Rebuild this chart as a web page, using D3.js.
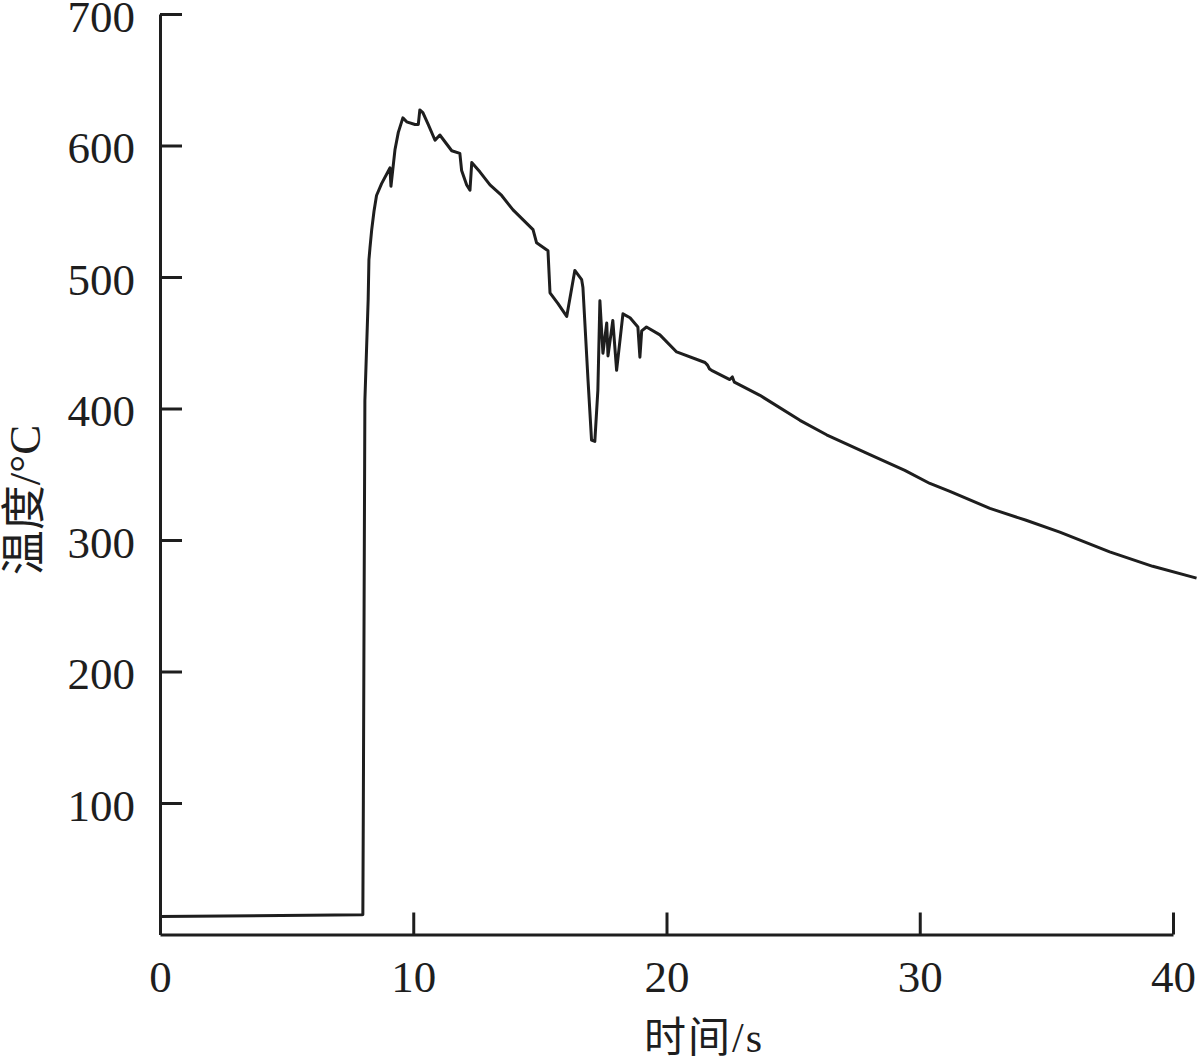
<!DOCTYPE html>
<html>
<head>
<meta charset="utf-8">
<script src="https://cdn.jsdelivr.net/npm/d3@7"></script>
<style>
  html, body { margin: 0; padding: 0; background: #fff; }
  svg { display: block; }
</style>
</head>
<body>
<svg id="chart" width="1199" height="1062"></svg>
<script>
// time (s)
const timeS = [0, 7.97, 8.01, 8.03, 8.09, 8.22, 8.25, 8.29, 8.36, 8.45, 8.55, 8.75, 9.00, 9.08, 9.12, 9.28, 9.41, 9.59, 9.74,
  10.07, 10.20, 10.26, 10.38, 10.59, 10.86, 11.05, 11.52, 11.84, 11.91, 12.11, 12.24, 12.31, 12.63, 13.03,
  13.49, 13.94, 14.73, 14.87, 15.32, 15.40, 15.71, 16.06, 16.38, 16.65, 16.70, 16.90, 17.04, 17.17, 17.29,
  17.37, 17.49, 17.64, 17.69, 17.88, 18.03, 18.28, 18.56, 18.87, 18.95, 19.02, 19.21, 19.74, 20.40, 21.52,
  21.62, 21.70, 21.78, 22.50, 22.60, 22.68, 23.69, 25.27, 26.32, 28.03, 29.41, 30.40, 31.19, 32.77, 34.20, 35.53,
  37.50, 39.20, 40.93];
// temperature (°C)
const tempC = [13.7, 15.0, 15.2, 102, 406, 483, 513, 522, 536, 550, 562, 571, 580, 583, 569, 597, 610, 621, 618,
  616, 616, 627, 625, 616, 604, 608, 596, 594, 581, 570, 566, 587, 580, 570,
  562, 551, 536, 526, 520, 488, 480, 470, 505, 498, 492, 422, 376, 375, 414,
  482, 442, 465, 440, 467, 429, 472, 469, 462, 439, 459, 462, 456, 443, 435,
  433, 430, 429, 422, 424, 420, 410, 391, 380, 365, 353, 343, 337, 324, 315, 306,
  291, 280, 271];

const xTicks = [0, 10, 20, 30, 40];
const yTicks = [100, 200, 300, 400, 500, 600, 700];
const xTitle = "时间/s";
const yTitle = "温度/°C";

const svg = d3.select("#chart");
const ink = "#1e1e1e";
const font = "'Liberation Serif', 'Times New Roman', serif";
const cjkFont = "'Liberation Serif', 'Noto Sans CJK SC', serif";

const x = d3.scaleLinear().domain([0, 40]).range([160, 1173]);
const y = d3.scaleLinear().domain([0, 700]).range([934.5, 14]);

const xAxis = d3.axisBottom(x).tickValues(xTicks).tickSizeInner(-22).tickSizeOuter(0).tickPadding(26).tickFormat(d3.format("d"));
const yAxis = d3.axisLeft(y).tickValues(yTicks).tickSizeInner(-22).tickSizeOuter(0).tickPadding(25).tickFormat(d3.format("d"));

const gx = svg.append("g").attr("transform", `translate(0,${y(0)})`).call(xAxis);
const gy = svg.append("g").attr("transform", `translate(${x(0)},0)`).call(yAxis);

[gx, gy].forEach(g => {
  g.select(".domain").attr("stroke", ink).attr("stroke-width", 3);
  g.selectAll(".tick line").attr("stroke", ink).attr("stroke-width", 3);
  g.selectAll(".tick text").attr("fill", ink).style("font-family", font).style("font-size", "45px");
});
gy.selectAll(".tick text").attr("dy", "0.38em");

const line = d3.line().x((d, i) => x(timeS[i])).y(d => y(d));
svg.append("path")
  .datum(tempC)
  .attr("fill", "none")
  .attr("stroke", ink)
  .attr("stroke-width", 3)
  .attr("stroke-linejoin", "round")
  .attr("d", line);

svg.append("text")
  .attr("x", 704).attr("y", 1052)
  .attr("text-anchor", "middle")
  .attr("fill", ink)
  .style("font-family", cjkFont).style("font-size", "42px")
  .style("letter-spacing", "2px")
  .text(xTitle);

svg.append("text")
  .attr("transform", "translate(40,500) rotate(-90)")
  .attr("text-anchor", "middle")
  .attr("fill", ink)
  .style("font-family", cjkFont).style("font-size", "45px")
  .text(yTitle);
</script>
</body>
</html>
